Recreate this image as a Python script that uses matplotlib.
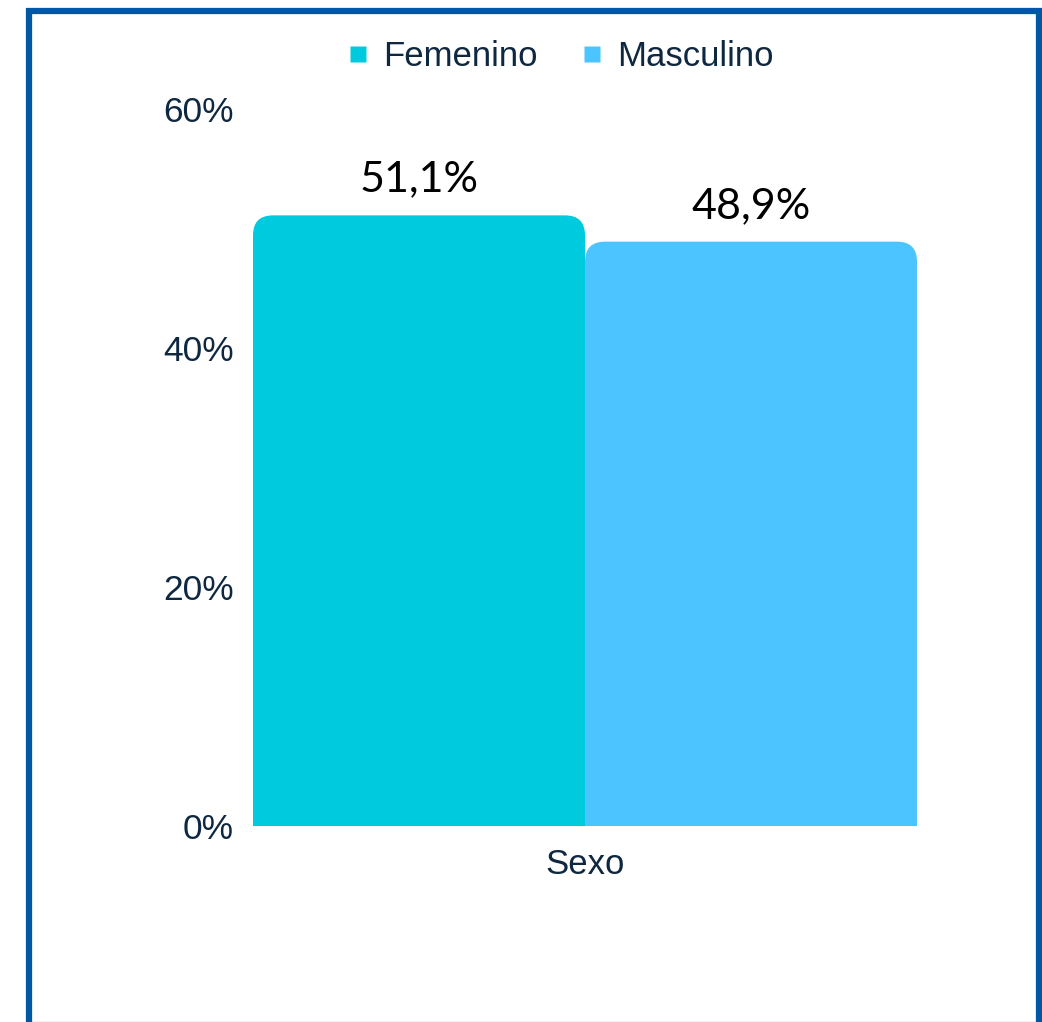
import matplotlib
matplotlib.use('Agg')
import matplotlib.pyplot as plt
from matplotlib.patches import FancyBboxPatch, Rectangle
from matplotlib.lines import Line2D

# data
categories = ['Sexo']
series = ['Femenino', 'Masculino']
values = [51.1, 48.9]
value_labels = ['51,1%', '48,9%']
yticks = [0, 20, 40, 60]
ytick_labels = ['0%', '20%', '40%', '60%']

colors = ['#00CADD', '#4BC4FF']
text_color = '#0E2841'
border_color = '#0057A3'

W, H = 1042, 1022
fig = plt.figure(figsize=(W / 100, H / 100), dpi=100)
fig.patch.set_facecolor('white')

# axes placed in pixels: left 253, right 917, baseline 826, 60% at 109
ax_l, ax_r, ax_b, ax_t = 253, 917, 826, 109
ax = fig.add_axes([ax_l / W, 1 - ax_b / H, (ax_r - ax_l) / W, (ax_b - ax_t) / H])

bar_w = 1.0
xpos = [-bar_w / 2, bar_w / 2]
bars = ax.bar(xpos, values, width=bar_w, color=colors)
ax.set_xlim(-1, 1)
ax.set_ylim(0, 60)

# round top corners
px_x = 2.0 / (ax_r - ax_l)
px_y = 60.0 / (ax_b - ax_t)
r_px = 20
for b, c in zip(bars, colors):
    b.set_visible(False)
    ry = r_px * px_y
    p = FancyBboxPatch((b.get_x(), -ry), b.get_width(), b.get_height() + ry,
                       boxstyle='round,pad=0,rounding_size=%f' % (r_px * px_x),
                       mutation_aspect=px_y / px_x,
                       facecolor=c, edgecolor='none', clip_on=True)
    ax.add_patch(p)

for x, v, lab in zip(xpos, values, value_labels):
    ax.annotate(lab, (x, v), xytext=(0, 12), textcoords='offset points',
                ha='center', va='bottom', fontsize=31, family='Lato', color='black')

ax.set_yticks(yticks)
ax.set_yticklabels(ytick_labels, fontsize=25.5, family='Liberation Sans', color=text_color)
ax.set_xticks([0])
ax.set_xticklabels(categories, fontsize=25, family='Liberation Sans', color=text_color)
ax.tick_params(axis='y', length=0, pad=14)
ax.tick_params(axis='x', length=0, pad=16)
for s in ax.spines.values():
    s.set_visible(False)

handles = [Line2D([0], [0], marker='s', color='none', markerfacecolor=c,
                  markeredgecolor='none', markersize=11) for c in colors]
leg = fig.legend(handles, series, loc='center', bbox_to_anchor=(561 / W, 1 - 57 / H),
                 ncol=2, frameon=False, handlelength=0.55, handletextpad=0.45,
                 columnspacing=1.3, prop={'family': 'Liberation Sans', 'size': 25})
for t in leg.get_texts():
    t.set_color(text_color)

# outer frame
fig.patches.append(Rectangle((29 / W, -0.05), (1038.5 - 29) / W, 1.05 - 11.5 / H,
                             transform=fig.transFigure, fill=False,
                             edgecolor=border_color, linewidth=4.5))
fig.add_artist(Line2D([32 / W, 1035 / W], [0.5 / H, 0.5 / H], color='#8FAFD6',
                      linewidth=1, transform=fig.transFigure))

fig.savefig('out.png', dpi=100, facecolor='white')
